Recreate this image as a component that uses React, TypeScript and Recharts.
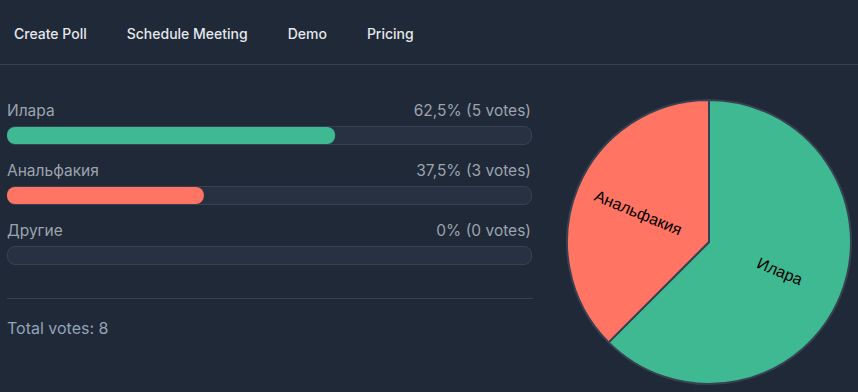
import React from 'react'
import { BarChart, Bar, XAxis, YAxis, PieChart, Pie, Cell } from 'recharts'

// poll data
const optionNames = ['Илара', 'Анальфакия', 'Другие']
const optionVotes = [5, 3, 0]
const optionPercents = [62.5, 37.5, 0]
const optionColors = ['#3eb991', '#ff7462', '#6b7280']
const navItems = ['Create Poll', 'Schedule Meeting', 'Demo', 'Pricing']

const totalVotes = optionVotes.reduce((s, v) => s + v, 0)

const BG = '#1f2937'
const BORDER = '#374151'
const TRACK = '#273142'
const MUTED = '#9ca3af'
const FONT = 'Inter, "Noto Sans", sans-serif'

const fmtPct = (p: number) => String(p).replace('.', ',') + '%'

const RAD = Math.PI / 180

const PieLabel = (props: any) => {
  const { cx, cy, midAngle, outerRadius, name, value } = props
  if (!value) return null
  const r = outerRadius * 0.54
  const x = cx + r * Math.cos(-midAngle * RAD)
  const y = cy + r * Math.sin(-midAngle * RAD)
  let rot = -midAngle
  while (rot > 90) rot -= 180
  while (rot <= -90) rot += 180
  return (
    <text
      x={x}
      y={y}
      fill="#000"
      fontSize={16}
      fontFamily='"Liberation Sans", Arial, sans-serif'
      textAnchor="middle"
      dominantBaseline="central"
      transform={`rotate(${rot} ${x} ${y})`}
    >
      {name}
    </text>
  )
}

export default function App() {
  const pieData = optionNames
    .map((name, i) => ({ name, value: optionVotes[i], color: optionColors[i] }))
    .filter((d) => d.value > 0)

  return (
    <div
      style={{
        position: 'absolute',
        left: 0,
        top: 0,
        width: 858,
        height: 392,
        background: BG,
        fontFamily: FONT,
        overflow: 'hidden',
      }}
    >
      {/* nav */}
      <div
        style={{
          position: 'absolute',
          left: 14,
          top: 24,
          display: 'flex',
          gap: 40,
          fontSize: 14,
          fontWeight: 500,
          color: '#e5e7eb',
          lineHeight: '20px',
        }}
      >
        {navItems.map((n) => (
          <span key={n}>{n}</span>
        ))}
      </div>
      <div style={{ position: 'absolute', left: 0, top: 64, width: 858, height: 1, background: BORDER }} />

      {/* options */}
      {optionNames.map((name, i) => (
        <div key={name} style={{ position: 'absolute', left: 7, top: 99 + i * 60, width: 525 }}>
          <div
            style={{
              display: 'flex',
              justifyContent: 'space-between',
              fontSize: 15.5,
              lineHeight: '24px',
              color: MUTED,
              height: 24,
              paddingRight: 1,
            }}
          >
            <span>{name}</span>
            <span>
              {fmtPct(optionPercents[i])} ({optionVotes[i]} votes)
            </span>
          </div>
          <div style={{ position: 'relative', marginTop: 3, width: 525, height: 19 }}>
            {/* track */}
            <div
              style={{
                position: 'absolute',
                inset: 0,
                background: TRACK,
                border: `1px solid ${BORDER}`,
                borderRadius: 8,
                boxSizing: 'border-box',
              }}
            />
            <BarChart
              width={525}
              height={19}
              layout="vertical"
              data={[{ name, pct: optionPercents[i] }]}
              margin={{ top: 0, right: 0, bottom: 0, left: 0 }}
              style={{ position: 'absolute', left: 0, top: 0 }}
            >
              <XAxis type="number" domain={[0, 100]} hide />
              <YAxis type="category" dataKey="name" hide />
              <Bar dataKey="pct" fill={optionColors[i]} barSize={19} radius={8} isAnimationActive={false} />
            </BarChart>
          </div>
        </div>
      ))}

      <div style={{ position: 'absolute', left: 7, top: 298, width: 526, height: 1, background: BORDER }} />
      <div style={{ position: 'absolute', left: 7, top: 316, fontSize: 16, lineHeight: '24px', color: '#94a3b8' }}>
        Total votes: {totalVotes}
      </div>

      {/* pie */}
      <div style={{ position: 'absolute', left: 560, top: 93 }}>
        <PieChart width={298} height={298} margin={{ top: 0, right: 0, bottom: 0, left: 0 }}>
          <Pie
            data={pieData}
            dataKey="value"
            nameKey="name"
            cx={149}
            cy={149}
            outerRadius={142}
            startAngle={90}
            endAngle={-270}
            stroke={BORDER}
            strokeWidth={2}
            label={PieLabel}
            labelLine={false}
            isAnimationActive={false}
          >
            {pieData.map((d) => (
              <Cell key={d.name} fill={d.color} />
            ))}
          </Pie>
        </PieChart>
      </div>
    </div>
  )
}
